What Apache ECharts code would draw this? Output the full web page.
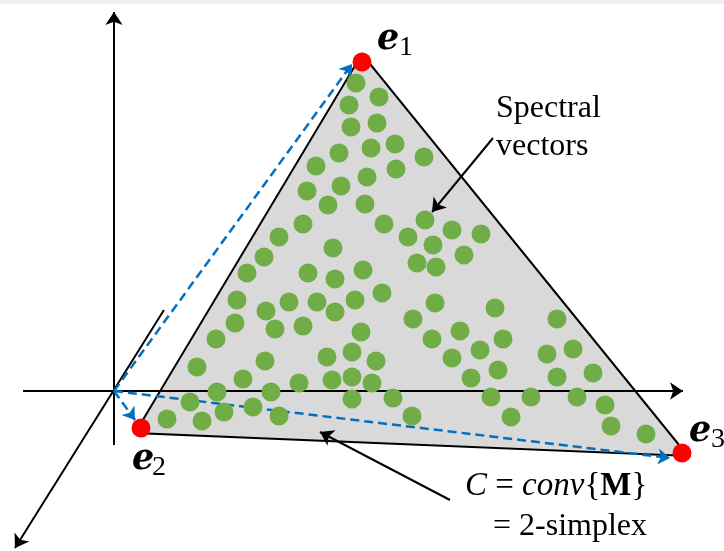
<!DOCTYPE html>
<html>
<head>
<meta charset="utf-8">
<script src="https://cdn.jsdelivr.net/npm/echarts@6/dist/echarts.min.js"></script>
<style>html,body{margin:0;padding:0;background:#fff}#c{width:724px;height:551px}</style>
</head>
<body>
<div id="c"></div>
<script>
// ---- data (diagram coordinates, y grows downward) ----
var triangleX = [362, 135, 688];
var triangleY = [54, 433, 456];

var vertexNames = ['e1', 'e2', 'e3'];
var vertexX = [362, 141, 682];
var vertexY = [62, 428, 453];

var spectralX = [356,379,349,351,377,395,371,339,424,316,396,367,341,307,328,365,425,384,303,452,481,408,279,433,333,464,417,436,264,247,308,363,335,
  237,266,289,317,355,335,382,435,495,235,275,303,413,361,216,432,460,480,452,503,327,352,376,265,197,498,471,243,299,332,352,372,217,271,491,190,352,393,253,224,167,202,279,412,
  557,547,573,557,593,531,577,605,511,611,646];
var spectralY = [83,97,105,127,123,144,148,153,157,166,169,177,186,191,205,204,220,224,224,230,234,237,237,245,248,255,263,267,257,273,273,270,279,
  300,311,302,302,300,312,293,303,308,323,329,326,319,332,339,339,331,350,358,339,357,352,361,361,367,370,378,379,383,380,377,383,392,392,397,402,399,398,407,412,419,421,416,416,
  319,354,349,377,373,397,397,405,417,426,434];

// axes of the 3-D frame: [fromX, fromY, toX, toY]
var frameAxes = [[114, 445, 114, 12], [23, 391, 683, 391], [164, 310, 15, 548]];
// dashed vectors from origin to each endmember
var vectorArrows = [[114, 391, 352, 64], [114, 391, 135, 420], [114, 391, 670, 458]];
// annotation pointers
var pointerArrows = [[493, 138, 432, 212], [450, 500, 320, 432]];

function toLines(arr) {
  return arr.map(function (a) { return { coords: [[a[0], a[1]], [a[2], a[3]]] }; });
}
function toPoints(xs, ys) {
  return xs.map(function (x, i) { return [x, ys[i]]; });
}

var chart = echarts.init(document.getElementById('c'), null, { renderer: 'canvas' });
var serif = "'Liberation Serif', 'Times New Roman', serif";

chart.setOption({
  animation: false,
  backgroundColor: '#ffffff',
  grid: { left: 0, right: 0, top: 0, bottom: 0 },
  xAxis: { type: 'value', min: 0, max: 724, show: false },
  yAxis: { type: 'value', min: 0, max: 551, inverse: true, show: false },
  series: [
    {
      type: 'custom',
      z: 1,
      data: [0],
      renderItem: function (params, api) {
        var pts = triangleX.map(function (x, i) { return api.coord([x, triangleY[i]]); });
        return {
          type: 'polygon',
          shape: { points: pts },
          style: { fill: '#d9d9d9', stroke: '#000000', lineWidth: 2 }
        };
      },
      silent: true
    },
    {
      type: 'lines',
      coordinateSystem: 'cartesian2d',
      z: 2,
      symbol: ['none', 'arrow'],
      symbolSize: 13,
      lineStyle: { color: '#000000', width: 2, opacity: 1 },
      data: toLines(frameAxes)
    },
    {
      type: 'lines',
      coordinateSystem: 'cartesian2d',
      z: 3,
      symbol: ['none', 'arrow'],
      symbolSize: 12,
      lineStyle: { color: '#0070c0', width: 2.5, type: [9, 5], opacity: 1 },
      data: toLines(vectorArrows)
    },
    {
      type: 'lines',
      coordinateSystem: 'cartesian2d',
      z: 3,
      symbol: ['none', 'arrow'],
      symbolSize: 13,
      lineStyle: { color: '#000000', width: 2, opacity: 1 },
      data: toLines(pointerArrows)
    },
    {
      type: 'scatter',
      z: 4,
      symbolSize: 19,
      itemStyle: { color: '#70ad47', opacity: 1 },
      data: toPoints(spectralX, spectralY)
    },
    {
      type: 'scatter',
      z: 5,
      symbolSize: 19,
      itemStyle: { color: '#ff0000', opacity: 1 },
      data: toPoints(vertexX, vertexY)
    }
  ],
  graphic: [
    { type: 'rect', z: 0, shape: { x: 0, y: 0, width: 724, height: 4 }, style: { fill: '#f0f0f0' } },
    { type: 'text', x: 377, y: 40, style: { text: 'e', font: "bold italic 35px 'DejaVu Serif'", fill: '#000', verticalAlign: 'middle', textVerticalAlign: 'middle' } },
    { type: 'text', x: 399, y: 48, style: { text: '1', font: "28px " + serif, fill: '#000', verticalAlign: 'middle', textVerticalAlign: 'middle' } },
    { type: 'text', x: 132, y: 460, style: { text: 'e', font: "bold italic 35px 'DejaVu Serif'", fill: '#000', verticalAlign: 'middle', textVerticalAlign: 'middle' } },
    { type: 'text', x: 152, y: 468, style: { text: '2', font: "28px " + serif, fill: '#000', verticalAlign: 'middle', textVerticalAlign: 'middle' } },
    { type: 'text', x: 689, y: 432, style: { text: 'e', font: "bold italic 35px 'DejaVu Serif'", fill: '#000', verticalAlign: 'middle', textVerticalAlign: 'middle' } },
    { type: 'text', x: 711, y: 440, style: { text: '3', font: "28px " + serif, fill: '#000', verticalAlign: 'middle', textVerticalAlign: 'middle' } },
    { type: 'text', x: 496, y: 109, style: { text: 'Spectral', font: "32px " + serif, fill: '#000', verticalAlign: 'middle', textVerticalAlign: 'middle' } },
    { type: 'text', x: 496, y: 147, style: { text: 'vectors', font: "32px " + serif, fill: '#000', verticalAlign: 'middle', textVerticalAlign: 'middle' } },
    { type: 'text', x: 465, y: 486, style: {
        text: '{i|C} = {i|conv}{{b|M}}',
        font: "33px " + serif, fill: '#000', verticalAlign: 'middle', textVerticalAlign: 'middle',
        rich: {
          i: { fontFamily: 'Liberation Serif', fontSize: 33, fontStyle: 'italic', fill: '#000' },
          b: { fontFamily: 'Liberation Serif', fontSize: 33, fontWeight: 'bold', fill: '#000' }
        }
      } },
    { type: 'text', x: 493, y: 527, style: { text: '= 2-simplex', font: "32px " + serif, fill: '#000', verticalAlign: 'middle', textVerticalAlign: 'middle' } }
  ]
});
</script>
</body>
</html>
